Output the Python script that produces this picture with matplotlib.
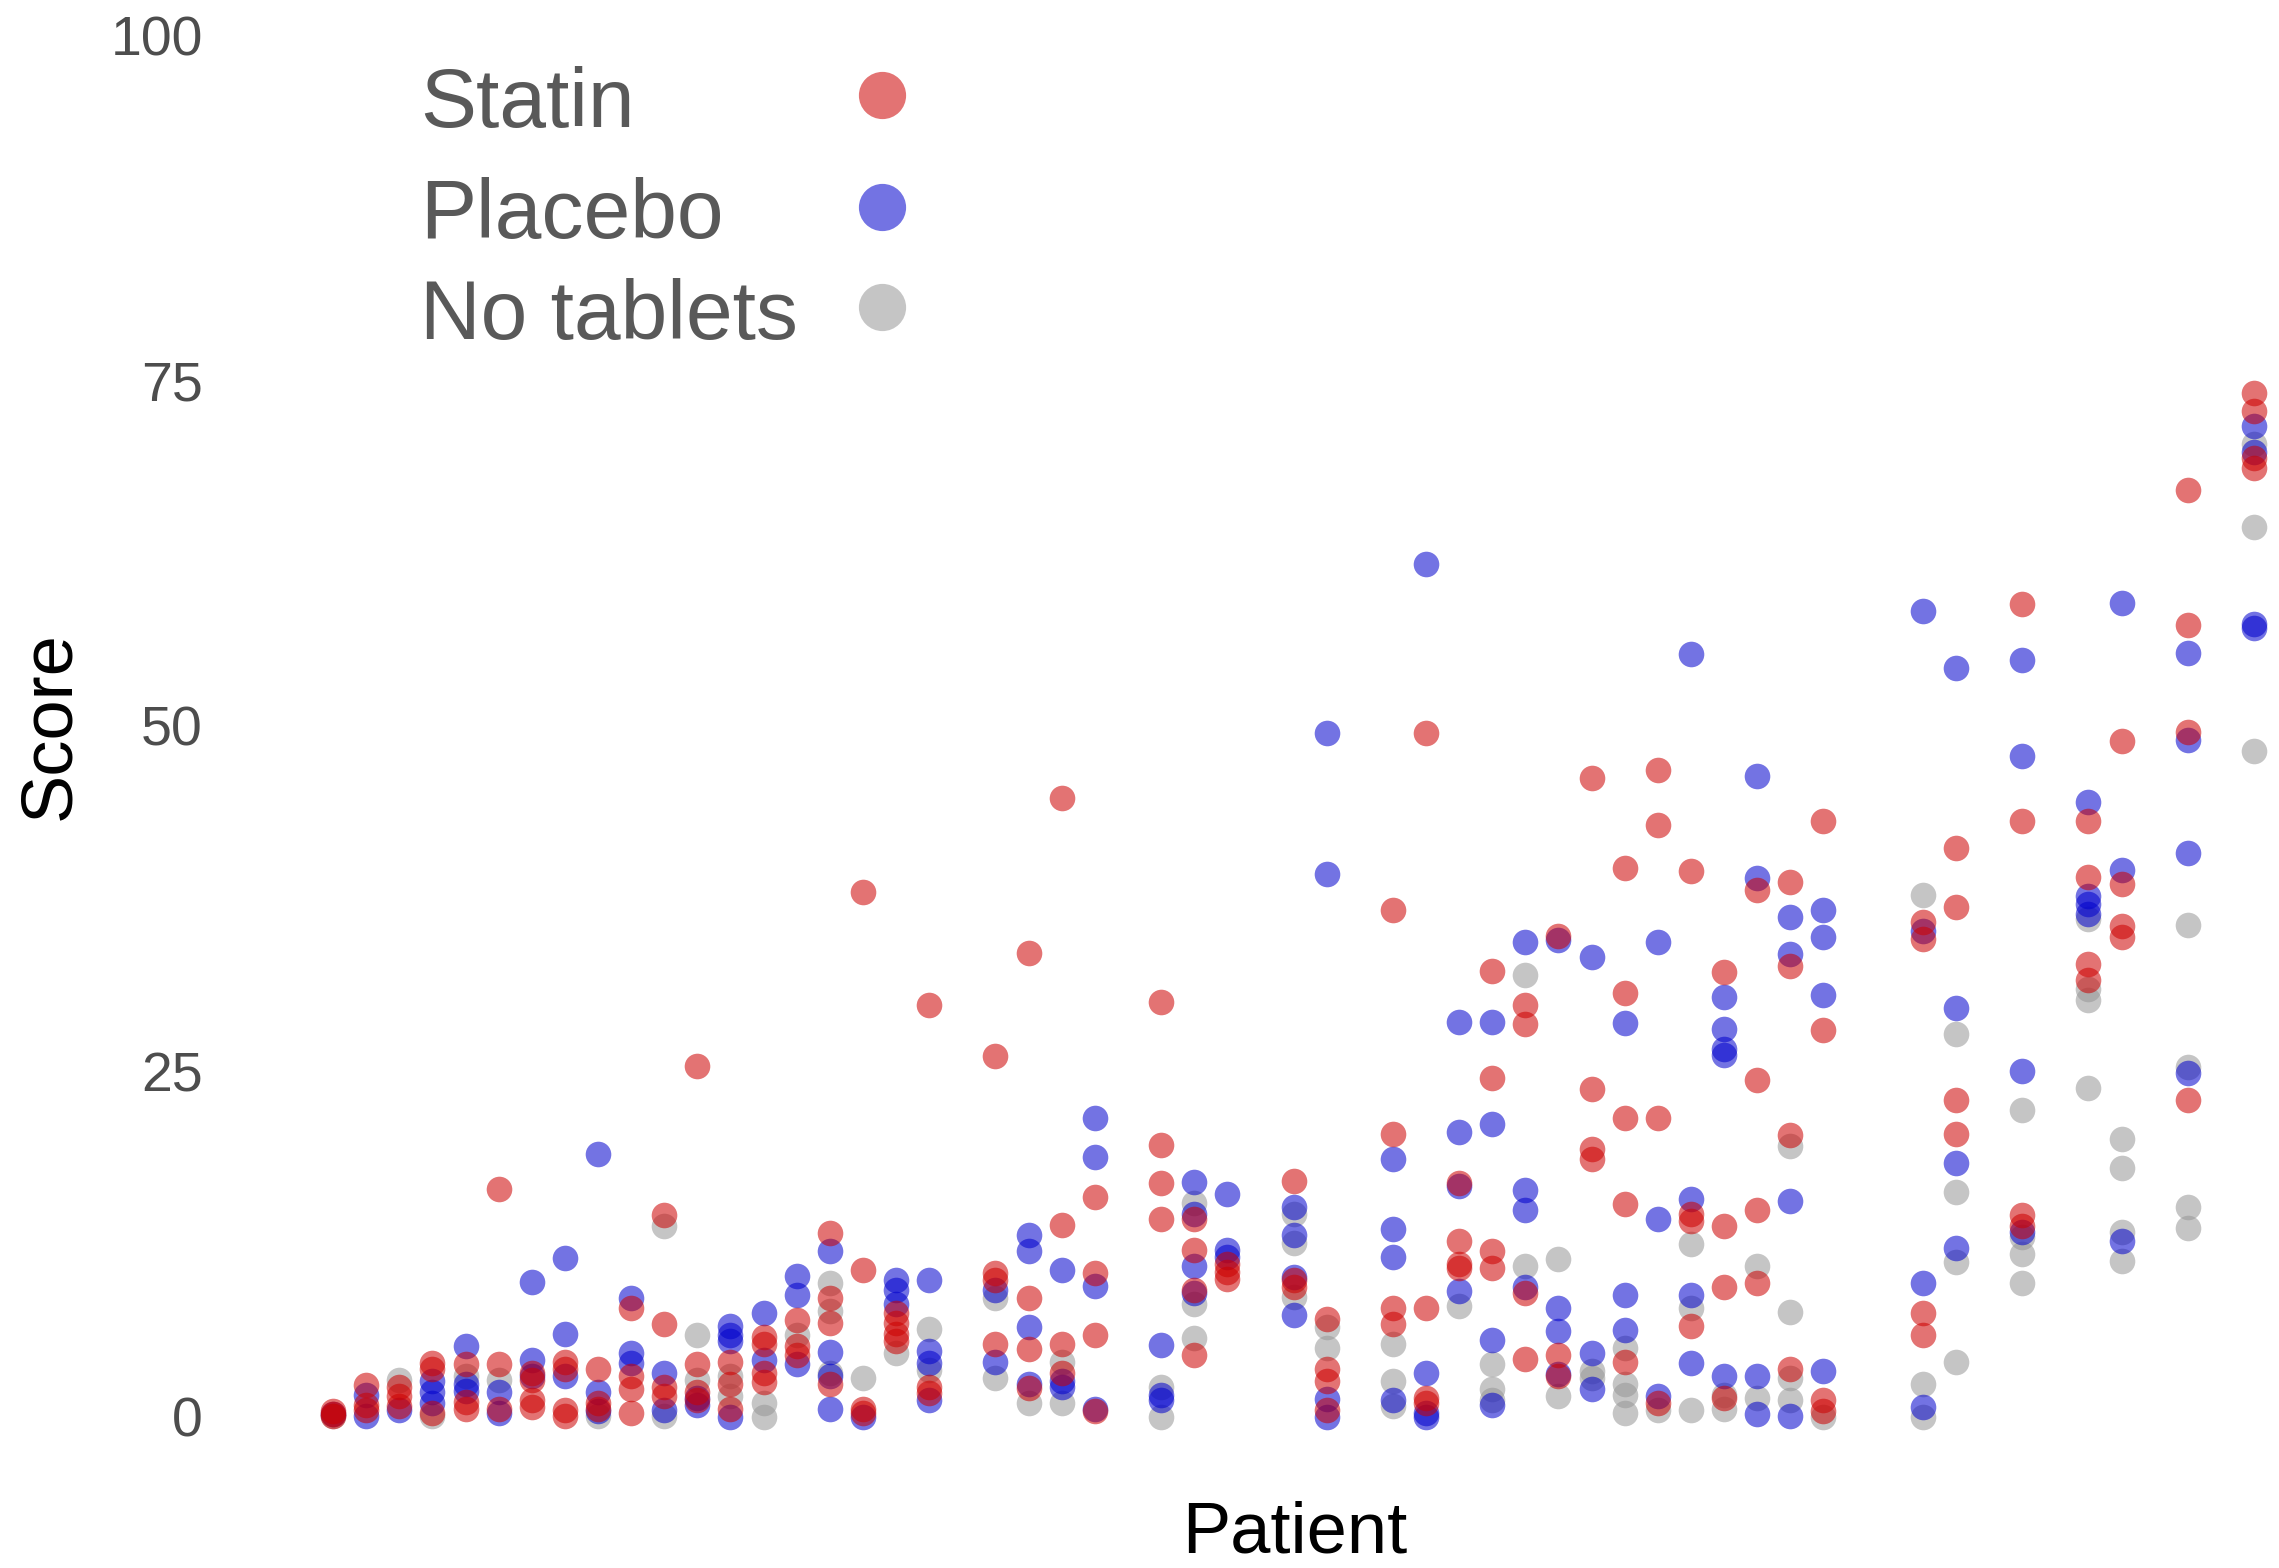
import matplotlib
matplotlib.use("Agg")
import matplotlib.pyplot as plt
from matplotlib.lines import Line2D

# scores per patient (x position) for each arm
statin = {
    1: [0.2, 0.4, 0.1], 2: [2.3, 0.9, 0.5], 3: [2.2, 1.5, 0.8], 4: [3.9, 3.5, 0.3],
    5: [3.8, 1.1, 0.6], 6: [16.5, 3.8, 0.6], 7: [3.2, 2.7, 1.2, 0.7], 8: [4.0, 3.5, 0.5, 0.1],
    9: [3.5, 1.0, 0.6], 10: [7.9, 3.0, 2.0, 0.3], 11: [14.6, 6.7, 2.2, 1.5], 12: [25.4, 3.8, 1.8, 1.2],
    13: [4.0, 2.4, 0.6], 14: [5.8, 5.3, 3.2, 2.5], 15: [7.0, 5.1, 4.5], 16: [13.3, 8.6, 6.8, 2.4],
    17: [38.0, 10.6, 0.6, 0.3], 18: [7.5, 6.8, 6.0, 5.5], 19: [29.8, 2.2, 1.7], 21: [26.1, 10.4, 9.9, 5.3],
    22: [33.6, 8.6, 4.9, 2.1], 23: [44.8, 13.9, 5.3, 3.2], 24: [15.9, 10.4, 5.9, 0.4],
    26: [30.0, 19.7, 16.9, 14.3], 27: [14.3, 12.1, 9.2, 4.5], 28: [11.1, 10.5, 10.0],
    30: [17.1, 9.9, 9.4], 31: [7.1, 3.5, 2.6, 0.5], 33: [36.7, 20.5, 7.9, 6.7], 34: [49.5, 7.9, 1.4, 1.0],
    35: [16.9, 12.7, 11.1, 10.8], 36: [32.3, 24.5, 12.0, 10.8], 37: [29.8, 28.4, 9.0, 4.2],
    38: [34.8, 4.5, 3.0], 39: [46.2, 23.7, 19.4, 18.7], 40: [39.7, 30.7, 21.6, 15.4, 4.0],
    41: [46.8, 42.8, 21.6, 1.0], 42: [39.5, 14.7, 14.2, 6.6], 43: [32.2, 13.8, 9.4, 1.4],
    44: [38.1, 24.4, 15.0, 9.7], 45: [38.7, 32.6, 20.4, 3.5], 46: [43.1, 28.0, 1.2, 0.4],
    49: [35.8, 34.6, 7.5, 5.9], 50: [41.2, 36.9, 22.9, 20.5], 52: [58.8, 43.1, 14.6, 13.8],
    54: [43.1, 39.1, 32.8, 31.6], 55: [48.9, 38.6, 35.5, 34.7], 57: [67.1, 57.3, 49.6, 22.9],
    59: [74.1, 72.8, 69.4, 68.7],
}
placebo = {
    1: [0.2], 2: [1.6, 0.1], 3: [0.5], 4: [2.6, 1.8, 1.0], 5: [5.1, 2.4, 1.9], 6: [1.8, 0.3],
    7: [9.8, 4.1, 3.0], 8: [11.5, 6.0, 3.0], 9: [19.0, 1.8, 0.4], 10: [8.6, 4.6, 3.9], 11: [3.2, 0.5],
    12: [1.4, 0.9], 13: [6.6, 5.9, 5.5, 0.0], 14: [7.5, 4.1], 15: [10.2, 8.8, 3.8],
    16: [12.0, 4.7, 3.0, 0.6], 17: [0.0], 18: [9.9, 9.2, 8.2], 19: [9.9, 4.8, 3.9, 1.2], 21: [9.2, 4.0],
    22: [13.2, 12.0, 6.5, 2.4], 23: [10.6, 2.6, 2.2], 24: [21.6, 18.8, 9.5, 0.6], 26: [5.2, 1.6, 1.2],
    27: [17.0, 14.7, 10.9, 9.0], 28: [16.1, 12.1, 11.6], 30: [15.2, 13.2, 10.1, 7.4],
    31: [49.5, 39.3, 1.3, 0.0], 33: [18.7, 13.6, 11.6, 1.2], 34: [61.7, 3.2, 0.3, 0.0],
    35: [28.6, 20.6, 16.7, 9.1], 36: [28.6, 21.2, 5.6, 0.9], 37: [34.4, 16.4, 15.0, 9.4],
    38: [34.5, 7.9, 6.2, 3.1], 39: [33.3, 4.6, 2.0], 40: [28.5, 8.8, 6.3], 41: [34.4, 14.3, 1.5],
    42: [55.2, 15.8, 8.8, 3.9], 43: [30.4, 28.1, 26.6, 26.2, 3.0], 44: [46.4, 39.0, 3.0, 0.2],
    45: [36.2, 33.5, 15.6, 0.1], 46: [36.7, 34.7, 30.5, 3.3], 49: [58.3, 35.2, 9.7, 0.7],
    50: [54.2, 29.6, 18.4, 12.2], 52: [54.8, 47.8, 25.0, 13.4], 54: [44.5, 37.7, 37.1, 36.4],
    55: [58.9, 39.6, 12.7], 57: [55.3, 49.0, 40.8, 24.9], 59: [71.7, 69.8, 57.4, 57.1],
}
no_tablets = {
    1: [0.1], 3: [2.7], 4: [0.1], 5: [3.0], 6: [2.7], 9: [0.1], 11: [13.8, 0.1], 12: [5.9, 2.7],
    13: [3.0, 1.5], 14: [1.0, 0.0], 15: [5.9], 16: [9.7, 7.7, 3.2], 17: [2.8], 18: [4.6],
    19: [6.4, 3.4], 21: [8.6, 2.8], 22: [1.0], 23: [4.0, 1.0], 26: [2.2, 0.0], 27: [15.5, 8.2, 5.7],
    30: [14.7, 12.6, 8.7], 31: [6.5, 5.0], 33: [5.3, 2.6, 0.8], 35: [8.0], 36: [3.8, 2.0, 1.2],
    37: [32.0, 10.9], 38: [11.4, 1.5], 39: [3.3, 2.8], 40: [5.0, 2.4, 1.6, 0.3], 41: [0.5],
    42: [12.5, 7.9, 0.5], 43: [1.6, 0.6], 44: [10.9, 1.4], 45: [19.6, 7.6, 2.8, 1.2], 46: [0.0],
    49: [37.8, 2.4, 0.0], 50: [27.7, 16.3, 11.2, 4.0], 52: [22.2, 13.0, 11.8, 9.7],
    54: [36.0, 31.0, 30.2, 23.8], 55: [20.1, 18.0, 13.4, 11.3], 57: [35.6, 25.3, 15.2, 13.7],
    59: [70.4, 64.4, 48.2],
}

arms = [("No tablets", no_tablets, "#969696"), ("Placebo", placebo, "#0000CC"), ("Statin", statin, "#CC0000")]
alpha = 0.55

plt.rcParams['font.family'] = ['Liberation Sans', 'DejaVu Sans']
fig = plt.figure(figsize=(22.79, 15.68), dpi=100)
ax = fig.add_axes([0.1316, 0.0787, 0.8647, 0.9166])

for name, data, color in arms:
    xs, ys = [], []
    for patient, scores in data.items():
        for s in scores:
            xs.append(patient)
            ys.append(s)
    ax.scatter(xs, ys, s=340, color=color, alpha=alpha, linewidths=0, clip_on=False)

ax.set_xlim(0, 59.5)
ax.set_ylim(-2, 102)
ax.set_xticks([])
ax.set_yticks([0, 25, 50, 75, 100])
ax.tick_params(axis='y', length=0, pad=70, labelsize=40, labelcolor='#4D4D4D')
for sp in ax.spines.values():
    sp.set_visible(False)

fig.text(0.0224, 0.537, "Score", rotation=90, fontsize=52, ha='center', va='center', color='black')
fig.text(0.568, 0.0215, "Patient", fontsize=52, ha='center', va='center', color='black')

# legend drawn by hand: labels left-aligned, keys in a column on the right
label_base = [0.919, 0.848, 0.784]
key_y = [0.9394, 0.868, 0.804]
for i, (name, _, color) in enumerate(reversed(arms)):
    fig.text(0.1845, label_base[i], name, fontsize=60.5, color='#595959', ha='left', va='baseline')
    fig.add_artist(Line2D([0.387], [key_y[i]], transform=fig.transFigure, marker='o',
                          linestyle='none', markersize=34, markeredgewidth=0, color=color, alpha=alpha))

fig.savefig("out.png", dpi=100)
